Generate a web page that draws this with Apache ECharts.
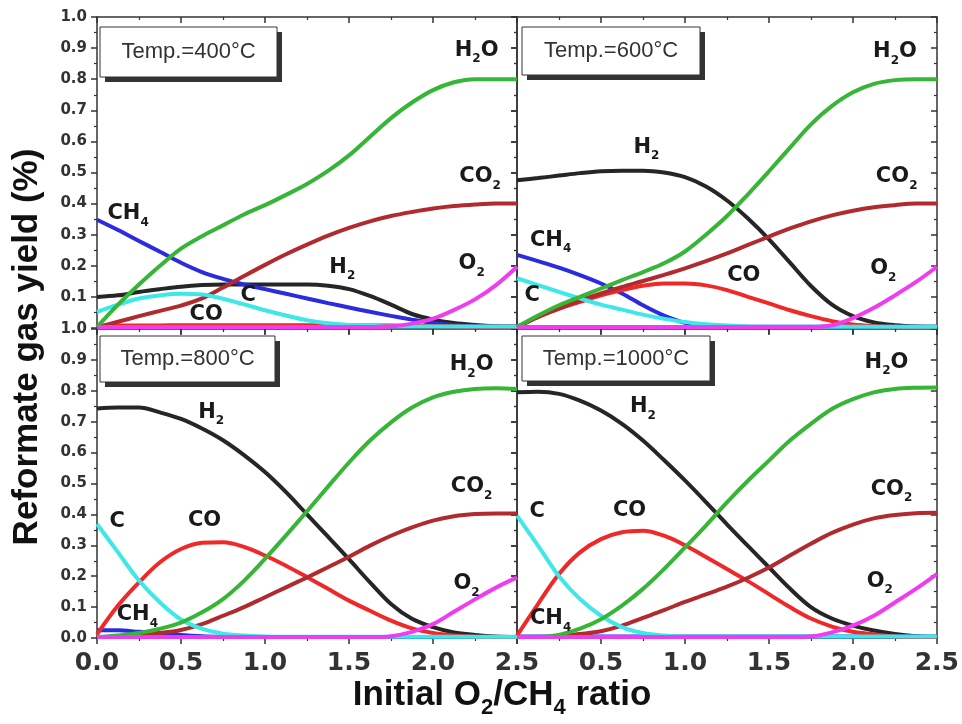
<!DOCTYPE html>
<html><head><meta charset="utf-8">
<script src="https://cdn.jsdelivr.net/npm/echarts@6/dist/echarts.min.js"></script>
<style>html,body{margin:0;padding:0;background:#fff}#c{width:962px;height:724px}</style>
</head><body><div id="c"></div><script>
// ---------- data ----------
const ratio = [0,0.125,0.25,0.375,0.5,0.625,0.75,0.875,1.0,1.125,1.25,1.375,1.5,1.625,1.75,1.875,2.0,2.125,2.25,2.375,2.5];
const xTicks = ['0.0','0.5','1.0','1.5','2.0','2.5'];
const temps = ['400','600','800','1000'];
const species = ['H2','CH4','CO','CO2','C','H2O','O2'];

// 400 C
const t400_H2  = [0.10,0.105,0.116,0.125,0.133,0.138,0.14,0.14,0.14,0.14,0.14,0.136,0.125,0.103,0.075,0.045,0.027,0.016,0.01,0.006,0.004];
const t400_CH4 = [0.348,0.315,0.28,0.245,0.21,0.18,0.158,0.14,0.125,0.11,0.095,0.08,0.066,0.052,0.039,0.027,0.016,0.009,0.006,0.005,0.005];
const t400_CO  = [0.006,0.008,0.008,0.008,0.009,0.009,0.009,0.009,0.009,0.009,0.009,0.009,0.008,0.008,0.008,0.007,0.006,0.005,0.004,0.004,0.004];
const t400_CO2 = [0.003,0.02,0.038,0.055,0.072,0.095,0.13,0.167,0.203,0.237,0.268,0.297,0.322,0.343,0.36,0.373,0.384,0.392,0.397,0.40,0.40];
const t400_C   = [0.052,0.075,0.095,0.105,0.11,0.108,0.094,0.076,0.057,0.04,0.025,0.015,0.01,0.007,0.005,0.005,0.005,0.005,0.005,0.005,0.005];
const t400_H2O = [0.003,0.075,0.14,0.20,0.255,0.295,0.33,0.365,0.395,0.428,0.463,0.505,0.555,0.615,0.675,0.725,0.765,0.79,0.80,0.80,0.80];
const t400_O2  = [0.003,0.003,0.003,0.003,0.003,0.003,0.003,0.003,0.003,0.003,0.003,0.003,0.003,0.003,0.005,0.014,0.03,0.058,0.092,0.138,0.197];

// 600 C
const t600_H2  = [0.475,0.482,0.49,0.498,0.504,0.506,0.506,0.50,0.485,0.455,0.41,0.352,0.285,0.21,0.135,0.075,0.038,0.018,0.009,0.005,0.004];
const t600_CH4 = [0.235,0.215,0.194,0.17,0.143,0.111,0.073,0.04,0.017,0.009,0.005,0.004,0.004,0.004,0.004,0.004,0.004,0.004,0.004,0.004,0.004];
const t600_CO  = [0.003,0.035,0.062,0.084,0.105,0.122,0.136,0.143,0.143,0.137,0.122,0.10,0.079,0.057,0.038,0.022,0.011,0.006,0.004,0.003,0.003];
const t600_CO2 = [0.003,0.036,0.062,0.088,0.111,0.132,0.151,0.171,0.192,0.215,0.24,0.267,0.294,0.32,0.343,0.362,0.377,0.388,0.395,0.40,0.40];
const t600_C   = [0.16,0.138,0.116,0.095,0.075,0.059,0.043,0.03,0.019,0.012,0.008,0.005,0.004,0.004,0.004,0.004,0.004,0.004,0.004,0.004,0.004];
const t600_H2O = [0.003,0.04,0.073,0.10,0.127,0.154,0.18,0.208,0.246,0.30,0.36,0.43,0.504,0.58,0.655,0.714,0.758,0.785,0.797,0.80,0.80];
const t600_O2  = [0.003,0.003,0.003,0.003,0.003,0.003,0.003,0.003,0.003,0.003,0.003,0.003,0.003,0.003,0.003,0.009,0.032,0.065,0.105,0.148,0.197];

// 800 C
const t800_H2  = [0.743,0.746,0.746,0.73,0.709,0.678,0.64,0.592,0.537,0.472,0.40,0.328,0.255,0.18,0.11,0.062,0.035,0.018,0.01,0.005,0.003];
const t800_CH4 = [0.025,0.025,0.02,0.016,0.01,0.006,0.004,0.003,0.003,0.003,0.003,0.003,0.003,0.003,0.003,0.003,0.003,0.003,0.003,0.003,0.003];
const t800_CO  = [0.012,0.105,0.18,0.245,0.288,0.308,0.31,0.295,0.267,0.234,0.197,0.159,0.121,0.088,0.056,0.031,0.016,0.008,0.004,0.003,0.003];
const t800_CO2 = [0.003,0.005,0.01,0.016,0.026,0.045,0.072,0.10,0.132,0.164,0.196,0.229,0.263,0.299,0.331,0.358,0.38,0.394,0.401,0.403,0.403];
const t800_C   = [0.369,0.277,0.186,0.115,0.06,0.03,0.014,0.008,0.005,0.004,0.004,0.004,0.004,0.004,0.004,0.004,0.004,0.004,0.004,0.004,0.004];
const t800_H2O = [0.003,0.008,0.016,0.03,0.05,0.083,0.126,0.185,0.256,0.332,0.41,0.49,0.568,0.639,0.698,0.746,0.779,0.797,0.806,0.808,0.806];
const t800_O2  = [0.003,0.003,0.003,0.003,0.003,0.003,0.003,0.003,0.003,0.003,0.003,0.003,0.003,0.003,0.006,0.02,0.045,0.085,0.125,0.163,0.196];

// 1000 C
const t1000_H2  = [0.795,0.797,0.79,0.768,0.736,0.693,0.639,0.576,0.51,0.44,0.368,0.298,0.229,0.16,0.1,0.063,0.04,0.024,0.013,0.006,0.003];
const t1000_CH4 = [0.005,0.005,0.005,0.005,0.005,0.005,0.005,0.005,0.005,0.005,0.005,0.005,0.005,0.005,0.005,0.005,0.005,0.005,0.005,0.005,0.005];
const t1000_CO  = [0.008,0.11,0.207,0.277,0.32,0.342,0.347,0.331,0.3,0.262,0.223,0.184,0.142,0.1,0.063,0.037,0.02,0.012,0.005,0.003,0.003];
const t1000_CO2 = [0.003,0.003,0.006,0.013,0.022,0.04,0.065,0.09,0.117,0.141,0.166,0.195,0.228,0.267,0.305,0.34,0.367,0.387,0.398,0.404,0.405];
const t1000_C   = [0.396,0.299,0.20,0.126,0.072,0.035,0.016,0.008,0.005,0.005,0.005,0.005,0.005,0.005,0.005,0.005,0.005,0.005,0.005,0.005,0.005];
const t1000_H2O = [0.003,0.003,0.01,0.03,0.061,0.105,0.159,0.223,0.293,0.364,0.439,0.509,0.574,0.639,0.693,0.741,0.773,0.795,0.806,0.81,0.811];
const t1000_O2  = [0.003,0.003,0.003,0.003,0.003,0.003,0.003,0.003,0.003,0.003,0.003,0.003,0.003,0.003,0.005,0.018,0.04,0.072,0.115,0.159,0.207];

const panelData = {
  '400':  {H2:t400_H2, CH4:t400_CH4, CO:t400_CO, CO2:t400_CO2, C:t400_C, H2O:t400_H2O, O2:t400_O2},
  '600':  {H2:t600_H2, CH4:t600_CH4, CO:t600_CO, CO2:t600_CO2, C:t600_C, H2O:t600_H2O, O2:t600_O2},
  '800':  {H2:t800_H2, CH4:t800_CH4, CO:t800_CO, CO2:t800_CO2, C:t800_C, H2O:t800_H2O, O2:t800_O2},
  '1000': {H2:t1000_H2, CH4:t1000_CH4, CO:t1000_CO, CO2:t1000_CO2, C:t1000_C, H2O:t1000_H2O, O2:t1000_O2}
};

// species label anchors (data coords) per panel
const labelSpots = {
  '400':  [['H2O',2.26,0.884],['CO2',2.28,0.476],['CH4',0.185,0.357],['H2',1.46,0.186],['O2',2.23,0.196],['C',0.9,0.096],['CO',0.65,0.035]],
  '600':  [['H2O',2.25,0.878],['H2',0.77,0.572],['CO2',2.26,0.476],['CH4',0.2,0.273],['C',0.09,0.096],['CO',1.35,0.16],['O2',2.18,0.18]],
  '800':  [['H2O',2.23,0.874],['H2',0.68,0.72],['CO2',2.23,0.479],['C',0.12,0.366],['CO',0.64,0.372],['O2',2.2,0.165],['CH4',0.24,0.065]],
  '1000': [['H2O',2.2,0.883],['H2',0.75,0.738],['CO2',2.23,0.472],['C',0.12,0.398],['CO',0.67,0.404],['O2',2.16,0.172],['CH4',0.2,0.052]]
};

// ---------- style ----------
const colors = {H2:'#262626', CH4:'#2b2be0', CO:'#f02828', CO2:'#b02a2e', C:'#3ee8e8', H2O:'#36b536', O2:'#f03cf0'};
const richName = {
  H2O:'{b|H}{s|2}{b|O}', CO2:'{b|CO}{s|2}', CH4:'{b|CH}{s|4}', H2:'{b|H}{s|2}', O2:'{b|O}{s|2}', C:'{b|C}', CO:'{b|CO}'
};
const grids = [
  {left:97,  top:17,  width:420, height:311},
  {left:517, top:17,  width:420, height:311},
  {left:97,  top:329, width:420, height:309},
  {left:517, top:329, width:420, height:309}
];
const boxes = [
  {x:100, y:27, w:177, h:50},
  {x:522, y:27, w:178, h:48},
  {x:100, y:336, w:175, h:46},
  {x:522, y:336, w:188, h:45}
];
const AX = '#333';

const xAxes = [], yAxes = [], series = [];
grids.forEach((g, i) => {
  const isBottom = i >= 2, isLeft = i % 2 === 0;
  const baseX = {
    gridIndex:i, type:'value', min:0, max:2.5, interval:0.5,
    axisLine:{show:true, onZero:false, lineStyle:{color:AX, width:1.5}},
    minorTick:{show:true, splitNumber:2, length:3, lineStyle:{color:AX, width:1.2}},
    splitLine:{show:false}, minorSplitLine:{show:false}
  };
  xAxes.push(Object.assign({}, baseX, {
    position:'bottom',
    axisTick:{show:true, inside:false, length:6, lineStyle:{color:AX, width:1.5}},
    axisLabel:{show:isBottom, showMinLabel: isLeft, fontFamily:'DejaVu Sans', fontWeight:'bold', fontSize:25, color:'#333', margin:13,
      formatter: v => xTicks[Math.round(v/0.5)]}
  }));
  xAxes.push(Object.assign({}, baseX, {
    position:'top',
    axisTick:{show:true, inside:true, length:6, lineStyle:{color:AX, width:1.5}},
    axisLabel:{show:false}
  }));
  const baseY = {
    gridIndex:i, type:'value', min:0, max:1, interval:0.1,
    axisLine:{show:true, onZero:false, lineStyle:{color:AX, width:1.5}},
    minorTick:{show:true, splitNumber:2, length:3, lineStyle:{color:AX, width:1.2}},
    splitLine:{show:false}, minorSplitLine:{show:false}
  };
  yAxes.push(Object.assign({}, baseY, {
    position:'left',
    axisTick:{show:true, inside:false, length:6, lineStyle:{color:AX, width:1.5}},
    axisLabel:{show:isLeft, showMinLabel: isBottom, fontFamily:'DejaVu Sans', fontWeight:'bold', fontSize:15, color:'#333', margin:10,
      formatter: v => v.toFixed(1)}
  }));
  yAxes.push(Object.assign({}, baseY, {
    position:'right',
    axisTick:{show:true, inside:true, length:6, lineStyle:{color:AX, width:1.5}},
    axisLabel:{show:false}
  }));

  const t = temps[i];
  species.forEach(sp => {
    series.push({
      type:'line', name:sp+'_'+t, xAxisIndex:2*i, yAxisIndex:2*i,
      data: ratio.map((r, k) => [r, panelData[t][sp][k]]),
      smooth:0.35, showSymbol:false, symbol:'none', clip:true,
      lineStyle:{color:colors[sp], width:4}, z:3, silent:true
    });
  });
  series.push({
    type:'scatter', name:'labels_'+t, xAxisIndex:2*i, yAxisIndex:2*i,
    data: labelSpots[t].map(s => ({value:[s[1], s[2]], name:s[0]})),
    symbolSize:1, itemStyle:{color:'rgba(0,0,0,0)', opacity:1}, silent:true, z:10,
    label:{show:true, position:'inside', opacity:1, color:'#111', formatter: p => richName[p.name],
      rich:{
        b:{fontFamily:'DejaVu Sans', fontWeight:'bold', fontSize:21, color:'#1a1a1a', lineHeight:27, verticalAlign:'top'},
        s:{fontFamily:'DejaVu Sans', fontWeight:'bold', fontSize:12, color:'#1a1a1a', lineHeight:27, verticalAlign:'top', padding:[13,0,0,0]}
      }}
  });
});

const graphic = [];
boxes.forEach((b, i) => {
  graphic.push({type:'rect', shape:{x:b.x+5, y:b.y+5, width:b.w, height:b.h}, style:{fill:'#333'}, z:20});
  graphic.push({type:'rect', shape:{x:b.x, y:b.y, width:b.w, height:b.h}, style:{fill:'#fff', stroke:'#333', lineWidth:1}, z:21});
  graphic.push({type:'text', x:b.x + b.w/2, y:b.y + b.h/2, z:22,
    style:{text:'Temp.=' + temps[i] + '°C', font:'22px "Liberation Sans", Arial, sans-serif', fill:'#333', textAlign:'center', textVerticalAlign:'middle'}});
});
graphic.push({type:'text', x:502, y:698, z:22,
  style:{rich:{t:{font:'bold 35px "Liberation Sans", Arial, sans-serif', fill:'#111', verticalAlign:'top', lineHeight:40},
               s:{font:'bold 22px "Liberation Sans", Arial, sans-serif', fill:'#111', verticalAlign:'top', lineHeight:40, padding:[19,0,0,0]}},
    text:'{t|Initial O}{s|2}{t|/CH}{s|4}{t| ratio}', textAlign:'center', textVerticalAlign:'middle'}});
graphic.push({type:'text', x:27, y:347, rotation:Math.PI/2, z:22,
  style:{text:'Reformate gas yield (%)', font:'bold 35px "Liberation Sans", Arial, sans-serif', fill:'#111', textAlign:'center', textVerticalAlign:'middle'}});

const chart = echarts.init(document.getElementById('c'), null, {renderer:'canvas'});
chart.setOption({
  animation:false, backgroundColor:'#fff',
  grid: grids, xAxis: xAxes, yAxis: yAxes, series: series, graphic: graphic
});
</script></body></html>
